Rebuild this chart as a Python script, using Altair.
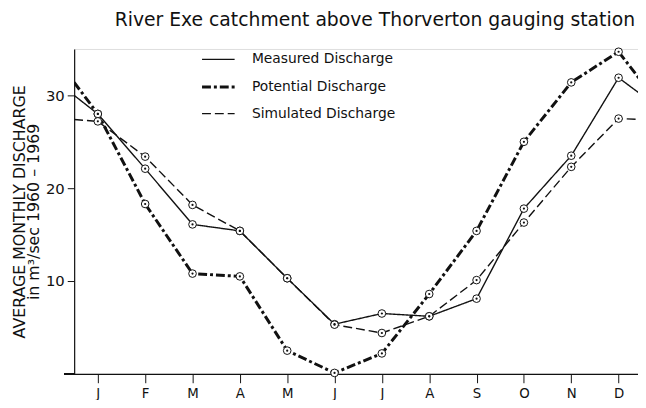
import altair as alt
import pandas as pd

months = ["J", "F", "M", "A", "M", "J", "J", "A", "S", "O", "N", "D"]
series = ["Measured Discharge", "Potential Discharge", "Simulated Discharge"]
measured = [28.0, 22.1, 16.1, 15.4, 10.3, 5.35, 6.5, 6.2, 8.1, 17.8, 23.5, 31.9]
potential = [28.0, 18.3, 10.8, 10.5, 2.5, 0.1, 2.2, 8.6, 15.4, 25.0, 31.4, 34.7]
simulated = [27.2, 23.4, 18.2, 15.4, 10.3, 5.3, 4.4, 6.2, 10.1, 16.3, 22.3, 27.5]
# where each curve meets the left / right frame (between mid-December and mid-January)
edge_left = [30.0, 31.4, 27.4]
edge_right = [30.0, 31.4, 27.4]

rows = []
for name, vals, el, er in zip(series, [measured, potential, simulated], edge_left, edge_right):
    rows.append({"series": name, "m": 0.5, "v": el, "marker": False})
    for i, v in enumerate(vals):
        rows.append({"series": name, "m": i + 1, "v": v, "marker": True})
    rows.append({"series": name, "m": 12.5, "v": er, "marker": False})
df = pd.DataFrame(rows)
pts = df[df["marker"]]

FONT = "DejaVu Sans"
W, H = 571, 329

legend = alt.Legend(title=None, orient="none", legendX=128, legendY=-7,
                    symbolType="stroke", symbolSize=1089, symbolStrokeColor="#111",
                    labelFont=FONT, labelFontSize=14, labelColor="#111",
                    labelOffset=16, rowPadding=2.5)

x_enc = alt.X("m:Q", scale=alt.Scale(domain=[0.5, 12.41], nice=False, zero=False),
              axis=alt.Axis(values=list(range(1, 13)), labelExpr=f"{months}[datum.value - 1]",
                            title=None, grid=False, tickSize=9, labelPadding=4,
                            labelFontSize=13.5, labelFont=FONT, labelColor="#111",
                            domainColor="#111", tickColor="#111", domainWidth=1.2,
                            labelFlush=False))
y_enc = alt.Y("v:Q", scale=alt.Scale(domain=[0, 35], nice=False),
              axis=alt.Axis(values=[10, 20, 30], grid=False, tickSize=7, labelPadding=3,
                            labelFontSize=15, labelFont=FONT, labelColor="#111",
                            domainColor="#111", tickColor="#111", domainWidth=1.2,
                            title=["AVERAGE MONTHLY DISCHARGE", "in m³/sec  1960 – 1969"],
                            titleFont=FONT, titleFontSize=16, titleFontWeight="normal",
                            titleLineHeight=14.5, titleColor="#111", titlePadding=4))

lines = alt.Chart(df).mark_line(clip=True, color="#111").encode(
    x=x_enc,
    y=y_enc,
    order=alt.Order("m:Q"),
    strokeDash=alt.StrokeDash("series:N", scale=alt.Scale(domain=series,
                              range=[[1, 0], [9, 3, 3, 3], [9, 4]]),
                              legend=legend),
    strokeWidth=alt.StrokeWidth("series:N", scale=alt.Scale(type="ordinal", domain=series,
                                range=[1.4, 3.0, 1.4]),
                                legend=legend),
)

rings = alt.Chart(pts).mark_point(shape="circle", filled=True, fill="white", stroke="#111",
                                  strokeWidth=1, size=60, opacity=1).encode(
    x="m:Q", y="v:Q")
dots = alt.Chart(pts).mark_point(shape="circle", filled=True, color="#111", size=5, opacity=1).encode(
    x="m:Q", y="v:Q")

ext = alt.Chart(df).mark_rule(color="#111", strokeWidth=1.2).encode(
    x=alt.value(-10), x2=alt.value(0), y=alt.value(H))

chart = alt.layer(lines, rings, dots, ext).properties(
    width=W, height=H,
    title=alt.TitleParams("River Exe catchment above Thorverton gauging station",
                          font=FONT, fontSize=19, fontWeight="normal", color="#111",
                          anchor="start", frame="group", orient="top", dx=41, dy=25,
                          offset=22, baseline="alphabetic"),
    autosize=alt.AutoSizeParams(type="none"),
    padding={"left": 67, "top": 39, "right": 0, "bottom": 24},
).configure_view(stroke=None).configure(background="white")

chart.save("out.html", embed_options={"renderer": "svg", "actions": False})
